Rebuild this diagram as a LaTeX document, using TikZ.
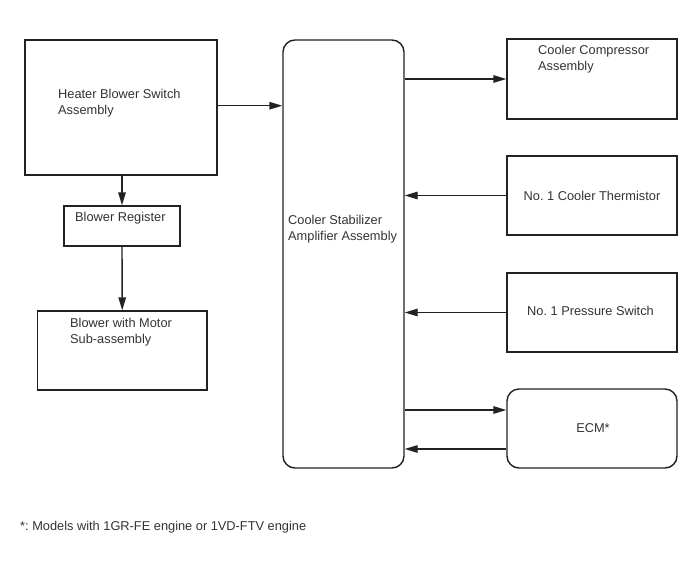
\documentclass[tikz,border=0pt]{standalone}
\usepackage{fontspec}
\setmainfont{Liberation Sans}
\usetikzlibrary{arrows.meta}
\definecolor{linec}{HTML}{222222}
\definecolor{textc}{HTML}{333333}
\frenchspacing
\begin{document}
\begin{tikzpicture}[x=1pt,y=-1pt,
  box/.style={draw=linec,line width=1.4pt,rectangle,inner sep=0pt,fill=white},
  rbox/.style={box,rounded corners=12pt},
  lbl/.style={inner sep=0pt,text=textc,align=left,font=\fontsize{12.8}{16}\selectfont\frenchspacing},
  conn/.style={draw=linec,line width=1.4pt,-{Triangle[length=13pt,width=7.5pt]}}]
\useasboundingbox (0,0) rectangle (688,560);
\fill[white] (0,0) rectangle (688,560);
% boxes
\node[box,minimum width=192pt,minimum height=135pt] (heater) at (121,107.5) {};
\node[rbox,minimum width=121pt,minimum height=428pt] (amp) at (343.5,254) {};
\node[box,minimum width=116pt,minimum height=40pt] (register) at (122,226) {};
\node[box,minimum width=169.5pt,minimum height=79pt] (blower) at (122.25,350.5) {};
\node[box,minimum width=170pt,minimum height=80pt] (compressor) at (592,79) {};
\node[box,minimum width=170pt,minimum height=79pt] (thermistor) at (592,195.5) {};
\node[box,minimum width=170pt,minimum height=79pt] (pressure) at (592,312.5) {};
\node[rbox,minimum width=170pt,minimum height=79pt] (ecm) at (592,428.5) {};
% labels
\node[lbl,anchor=north west] (theater) at (58,89) {Heater Blower Switch\\Assembly};
\node[lbl,anchor=north west] (tamp) at (288,215.5) {Cooler Stabilizer\\Amplifier Assembly};
\node[lbl,anchor=north west] (tregister) at (75,212.5) {Blower Register};
\node[lbl,anchor=north west] (tblower) at (70,318) {Blower with Motor\\Sub-assembly};
\node[lbl,anchor=north west] (tcompressor) at (538,45.5) {Cooler Compressor\\Assembly};
\node[lbl,anchor=north] (tthermistor) at (592,191) {No. 1 Cooler Thermistor};
\node[lbl,anchor=north] (tpressure) at (590.5,306.5) {No. 1 Pressure Switch};
\node[lbl,anchor=north] (tecm) at (593,423.3) {ECM*};
\node[lbl,anchor=north west] (note) at (20,521) {*: Models with 1GR-FE engine or 1VD-FTV engine};
% connectors
\draw[conn] ([yshift=1.8pt]heater.east) -- ([yshift=1.8pt]heater.east -| amp.west);
\draw[conn] (register.north |- heater.south) -- (register.north);
\draw[conn] (register.south) -- (blower.north);
\draw[conn] (compressor.west -| amp.east) -- (compressor.west);
\draw[conn] (thermistor.west) -- (thermistor.west -| amp.east);
\draw[conn] (pressure.west) -- (pressure.west -| amp.east);
\draw[conn] ([yshift=18.5pt]ecm.west -| amp.east) -- ([yshift=18.5pt]ecm.west);
\draw[conn] ([yshift=-20.5pt]ecm.west) -- ([yshift=-20.5pt]ecm.west -| amp.east);
\end{tikzpicture}
\end{document}
